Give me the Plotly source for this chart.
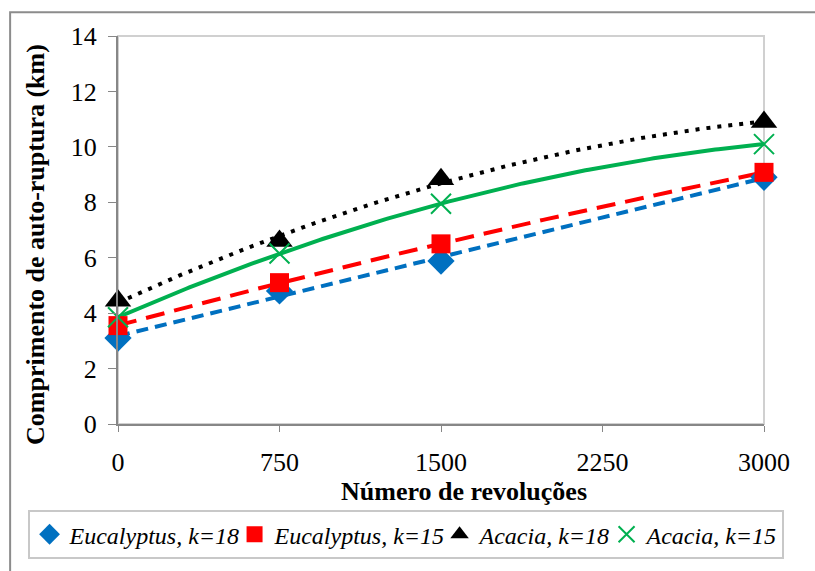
import numpy as np
import plotly.graph_objects as go

revolucoes = [0, 750, 1500, 3000]
euc_k18 = [3.1, 4.8, 5.88, 8.9]
euc_k15 = [3.55, 5.1, 6.5, 9.08]
aca_k18 = [4.45, 6.6, 8.83, 10.9]
aca_k15 = [3.85, 6.15, 7.95, 10.1]

names = ["Eucalyptus, k=18", "Eucalyptus, k=15", "Acacia, k=18", "Acacia, k=15"]
series = [euc_k18, euc_k15, aca_k18, aca_k15]
colors = ["#0070c0", "#ff0000", "#000000", "#00b050"]
symbols = ["diamond", "square", "triangle-up", "x-thin"]
msizes = [21, 19, 23, 20]
dashes = ["12px,7px", "19px,10px", "4px,7px", "solid"]
legend_widths = [160, 160, 122, 130]

x_title = "Número de revoluções"
y_title = "Comprimento de auto-ruptura (km)"

FONT = "Liberation Serif"
fig = go.Figure()

xs = np.linspace(0, 3000, 200)
for vals, c, d in zip(series, colors, dashes):
    p = np.polyfit(revolucoes, vals, 2)
    fig.add_trace(go.Scatter(x=xs, y=np.polyval(p, xs), mode="lines",
                             line=dict(color=c, width=4, dash=d),
                             showlegend=False, hoverinfo="skip"))

for name, vals, c, s, ms, lw in zip(names, series, colors, symbols, msizes, legend_widths):
    marker = dict(symbol=s, size=ms, color=c)
    if s == "x-thin":
        marker["line"] = dict(color=c, width=2)
    fig.add_trace(go.Scatter(x=revolucoes, y=vals, mode="markers", name=name,
                             marker=marker, cliponaxis=False, legendwidth=lw))

fig.update_layout(
    width=815, height=571,
    margin=dict(l=118, r=51, t=36, b=143),
    plot_bgcolor="white", paper_bgcolor="white",
    font=dict(family=FONT, size=26, color="black"),
    xaxis=dict(range=[0, 3000], tickvals=[0, 750, 1500, 2250, 3000],
               showgrid=False, zeroline=False, showline=True, linecolor="#878787",
               linewidth=2, ticks="outside", ticklen=6, tickcolor="#878787",
               ticklabelstandoff=8, automargin=False,
               tickfont=dict(family=FONT, size=26)),
    yaxis=dict(range=[0, 14], tickvals=list(range(0, 15, 2)),
               showgrid=False, zeroline=False, showline=True, linecolor="#878787",
               linewidth=2, ticks="outside", ticklen=8, tickcolor="#878787",
               ticklabelstandoff=6, automargin=False,
               tickfont=dict(family=FONT, size=26)),
    legend=dict(orientation="h", x=-0.14, xanchor="left", y=-0.222, yanchor="top",
                bordercolor="#c8c8c8", borderwidth=2, itemwidth=30,
                font=dict(family=FONT, size=24, style="italic"),
                tracegroupgap=0),
    annotations=[
        dict(text="<b>" + x_title + "</b>", xref="paper", yref="paper",
             x=0.5356, y=-0.1745, xanchor="center", yanchor="middle",
             showarrow=False, font=dict(family=FONT, size=26)),
        dict(text="<b>" + y_title + "</b>", xref="paper", yref="paper",
             x=-0.127, y=0.464, xanchor="center", yanchor="middle", textangle=-90,
             showarrow=False, font=dict(family=FONT, size=26)),
    ],
    shapes=[
        dict(type="rect", xref="paper", yref="paper", x0=0, x1=1, y0=0, y1=1,
             line=dict(color="#d0d0d0", width=2), layer="below"),
        dict(type="rect", xref="paper", yref="paper", x0=-0.167, x1=1.1, y0=-0.5, y1=1.061,
             line=dict(color="#8c8c8c", width=2), layer="below"),
    ],
)

fig.write_html("out.html", config={"displayModeBar": False})
with open("out.html", encoding="utf-8") as f:
    html = f.read()
html = html.replace("<head>", "<head><style>html,body{margin:0;padding:0;overflow:hidden}</style>", 1)
with open("out.html", "w", encoding="utf-8") as f:
    f.write(html)
